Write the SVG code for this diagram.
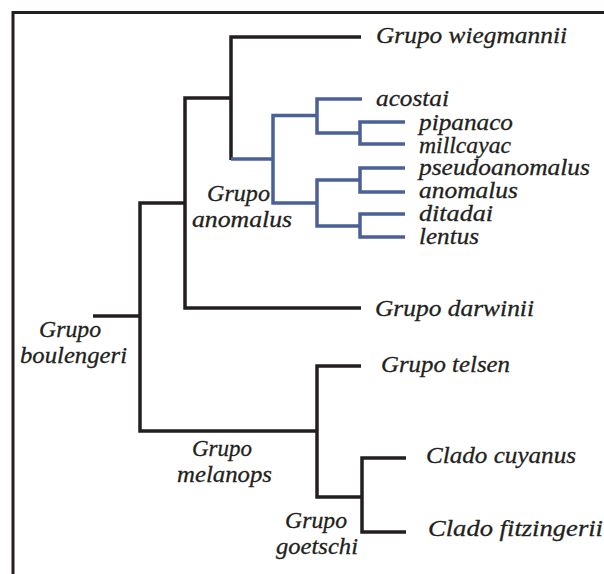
<svg xmlns="http://www.w3.org/2000/svg" width="604" height="574" viewBox="0 0 604 574">
<style>
.k{fill:none;stroke:#231f20;stroke-width:3.5;stroke-linecap:butt;stroke-linejoin:miter}
.b{fill:none;stroke:#4a6096;stroke-width:3.5;stroke-linecap:butt;stroke-linejoin:miter}
text{font-family:"Liberation Serif","Times New Roman",serif;font-style:italic;font-size:23px;fill:#231f20;stroke:#231f20;stroke-width:0.3}
</style>
<rect x="0" y="0" width="604" height="574" fill="#ffffff"/>
<path d="M13 580 V12.5 H610" fill="none" stroke="#231f20" stroke-width="3"/>
<g id="connectors">
<path class="k" d="M361 37 H231 V160"/>
<path class="k" d="M231 98 H185 V308 H361"/>
<path class="k" d="M185 203 H140 V431 H317"/>
<path class="k" d="M93 316 H140"/>
<path class="k" d="M361 366 H317 V497 H362"/>
<path class="k" d="M406 458 H362 V532 H406"/>
<path class="b" d="M231 159 H273"/>
<path class="b" d="M317 115.5 H273 V203 H317"/>
<path class="b" d="M362 99 H317 V133 H360"/>
<path class="b" d="M405 122 H360 V144 H405"/>
<path class="b" d="M360 180 H317 V226 H360"/>
<path class="b" d="M405 168 H360 V192 H405"/>
<path class="b" d="M405 214 H360 V237 H405"/>
</g>
<g id="wiegmannii"><text x="376" y="43" textLength="191" lengthAdjust="spacingAndGlyphs">Grupo wiegmannii</text></g>
<g id="acostai"><text x="376" y="106" textLength="73" lengthAdjust="spacingAndGlyphs">acostai</text></g>
<g id="pipanaco"><text x="419" y="130" textLength="94" lengthAdjust="spacingAndGlyphs">pipanaco</text></g>
<g id="millcayac"><text x="419" y="153" textLength="92" lengthAdjust="spacingAndGlyphs">millcayac</text></g>
<g id="pseudoanomalus"><text x="419" y="175" textLength="171" lengthAdjust="spacingAndGlyphs">pseudoanomalus</text></g>
<g id="anomalus"><text x="419" y="198" textLength="99" lengthAdjust="spacingAndGlyphs">anomalus</text></g>
<g id="ditadai"><text x="419" y="221" textLength="74" lengthAdjust="spacingAndGlyphs">ditadai</text></g>
<g id="lentus"><text x="419" y="244" textLength="60" lengthAdjust="spacingAndGlyphs">lentus</text></g>
<g id="grupo-anomalus"><text x="207" y="201" textLength="63" lengthAdjust="spacingAndGlyphs">Grupo</text><text x="192" y="227" textLength="100" lengthAdjust="spacingAndGlyphs">anomalus</text></g>
<g id="darwinii"><text x="375" y="316" textLength="159" lengthAdjust="spacingAndGlyphs">Grupo darwinii</text></g>
<g id="boulengeri"><text x="39" y="337" textLength="62" lengthAdjust="spacingAndGlyphs">Grupo</text><text x="20" y="363" textLength="107" lengthAdjust="spacingAndGlyphs">boulengeri</text></g>
<g id="melanops"><text x="192" y="456" textLength="60" lengthAdjust="spacingAndGlyphs">Grupo</text><text x="177" y="482" textLength="95" lengthAdjust="spacingAndGlyphs">melanops</text></g>
<g id="telsen"><text x="381" y="372" textLength="129" lengthAdjust="spacingAndGlyphs">Grupo telsen</text></g>
<g id="cuyanus"><text x="426" y="463" textLength="150" lengthAdjust="spacingAndGlyphs">Clado cuyanus</text></g>
<g id="fitzingerii"><text x="428" y="536" textLength="175" lengthAdjust="spacingAndGlyphs">Clado fitzingerii</text></g>
<g id="goetschi"><text x="285" y="528" textLength="62" lengthAdjust="spacingAndGlyphs">Grupo</text><text x="276" y="554" textLength="82" lengthAdjust="spacingAndGlyphs">goetschi</text></g>
</svg>
